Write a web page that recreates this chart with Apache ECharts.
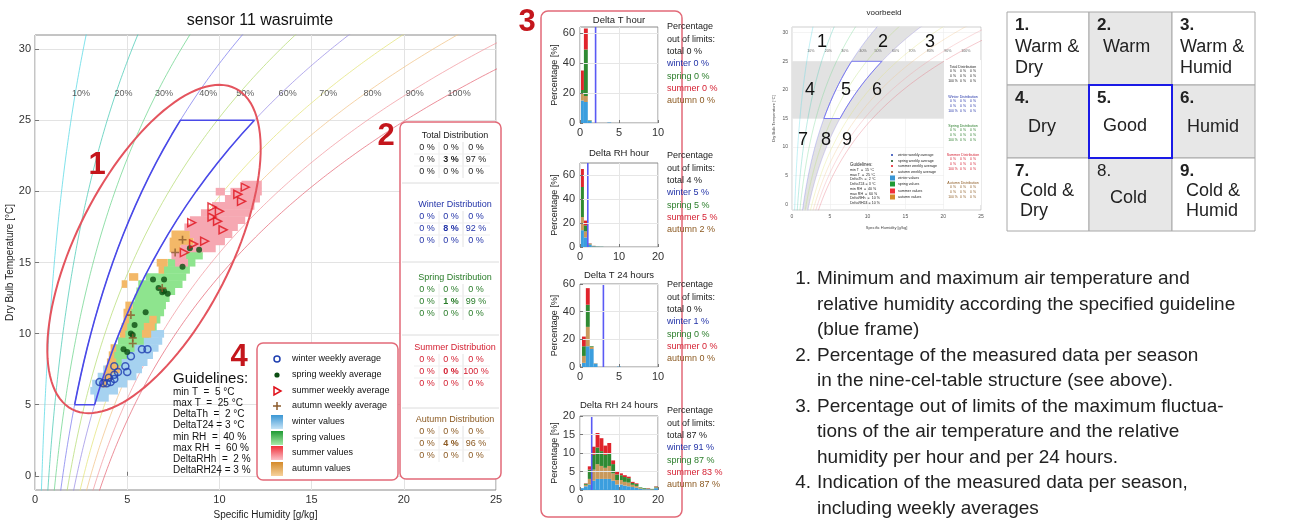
<!DOCTYPE html>
<html>
<head>
<meta charset="utf-8">
<script src="https://cdn.jsdelivr.net/npm/echarts@6/dist/echarts.min.js"></script>
<style>
  html, body { margin: 0; padding: 0; background: #fff; }
  #chart { width: 1304px; height: 520px; }
</style>
</head>
<body>
<div id="chart"></div>
<script>
// ---- psychrometric reference: saturation vapour pressure of water [kPa] ----
const satTemp = [-2,-1,0,1,2,3,4,5,6,7,8,9,10,11,12,13,14,15,16,17,18,19,20,21,22,23,24,25,26,27,28,29,30,31,32];
const satPress = [0.5275,0.5679,0.6112,0.6571,0.7060,0.7581,0.8135,0.8725,0.9353,1.0020,1.0729,1.1481,1.2280,1.3128,1.4026,1.4979,1.5987,1.7055,1.8185,1.9380,2.0643,2.1979,2.3389,2.4878,2.6448,2.8105,2.9852,3.1693,3.3633,3.5674,3.7823,4.0084,4.2462,4.4961,4.7586];
const atmPressure = 101.325;

// relative humidity lines and their labels
const rhLevels = [10, 20, 30, 40, 50, 60, 70, 80, 90, 100];
const rhColors = ['#56d8e4', '#48c9b4', '#6cd48c', '#7c7cee', '#b6dc74', '#9a8ee6', '#e4e47a', '#f2c48a', '#f29aa0', '#e66a78'];
const rhLabelX = [2.5, 4.8, 7.0, 9.4, 11.4, 13.7, 15.9, 18.3, 20.6, 23.0];
const rhLabelT = 26.85;

// guideline of the room
const guideMinT = 5, guideMaxT = 25, guideMinRH = 40, guideMaxRH = 60;
const guidelineLines = ['min T  =  5 °C', 'max T  =  25 °C', 'DeltaTh  =  2 °C', 'DeltaT24 = 3 °C',
                        'min RH  =  40 %', 'max RH  =  60 %', 'DeltaRHh  =  2 %', 'DeltaRH24 = 3 %'];

// measured values per season: rows of [temperature, q from, q to]
const winterCells = [[10.0,6.0,7.0],[9.5,5.4,6.9],[9.0,4.9,6.7],[8.5,4.4,6.4],[8.0,4.0,6.1],[7.5,3.7,5.8],
                     [7.0,3.4,5.5],[6.5,3.1,5.0],[6.0,3.0,4.5],[5.5,3.2,4.0]];
const springCells = [[15.5,7.9,9.1],[15.0,7.2,8.7],[14.5,6.9,8.4],[14.0,6.0,8.2],[13.5,5.6,8.0],[13.0,5.5,7.6],
                     [12.5,5.4,7.3],[12.0,5.3,7.1],[11.5,5.1,7.0],[11.0,5.0,6.8],[10.5,4.8,6.6],[10.0,4.6,6.2],
                     [9.5,4.5,5.9],[9.0,4.3,5.4],[8.5,4.2,5.0],[8.0,4.1,4.7],[7.5,4.2,4.5]];
const autumnCells = [[17.0,7.4,8.4],[16.5,7.3,8.6],[16.0,7.3,7.9],[15.0,6.6,7.2],[14.5,6.7,7.0],[14.0,5.1,5.6],
                     [13.5,4.7,5.0],[12.0,4.9,5.3],[11.5,4.8,5.2],[11.0,4.8,5.1],[11.0,6.2,6.6],[10.5,4.7,5.0],
                     [10.5,5.9,6.5],[10.0,4.6,4.9],[10.0,5.8,6.3],[9.0,4.1,4.4],[8.5,4.0,4.3],[8.0,3.9,4.4],
                     [7.5,3.8,4.6],[7.0,3.7,4.2],[6.5,3.6,3.9]];
const summerCells = [[20.5,11.2,12.3],[20.0,10.6,12.3],[20.0,9.8,10.3],[19.5,10.3,12.2],[19.0,9.6,11.9],
                     [18.5,9.0,11.7],[18.0,8.4,11.4],[17.5,8.1,11.0],[17.0,8.4,10.7],[16.5,8.6,10.3],
                     [16.0,7.9,9.8],[15.5,7.4,8.2],[15.0,7.6,8.3]];

// weekly averages per season: [specific humidity g/kg, temperature °C]
const winterWeekly = [[3.5,6.6],[3.7,6.5],[3.9,6.5],[4.1,6.6],[4.3,6.8],[4.0,6.9],[4.3,7.1],[4.5,7.3],
                      [4.3,7.7],[4.9,7.7],[5.0,7.3],[5.2,8.4],[5.8,8.9],[6.1,8.9]];
const springWeekly = [[8.4,16.0],[8.9,15.9],[8.0,14.7],[6.4,13.8],[7.0,13.8],[6.7,13.2],[7.0,13.0],[7.2,12.8],
                      [6.9,12.9],[6.0,11.5],[5.4,10.6],[5.2,10.0],[5.3,9.9],[4.8,8.9],[5.0,8.7]];
const summerWeekly = [[11.4,20.3],[11.0,19.8],[11.2,19.3],[9.6,18.9],[10.0,18.6],[9.6,18.2],[9.9,17.9],
                      [10.2,17.3],[8.5,17.8],[9.2,16.5],[8.6,16.3],[8.1,15.7]];
const autumnWeekly = [[8.0,16.6],[7.6,15.7],[5.2,11.3],[5.3,9.7],[5.3,9.3],[6.9,13.2]];

// nine-cell distributions [%]
const distTotal  = [[0,0,0],[0,3,97],[0,0,0]];
const distWinter = [[0,0,0],[0,8,92],[0,0,0]];
const distSpring = [[0,0,0],[0,1,99],[0,0,0]];
const distSummer = [[0,0,0],[0,0,100],[0,0,0]];
const distAutumn = [[0,0,0],[0,4,96],[0,0,0]];

// fluctuation histograms (stacked per season, percentage of all data)
const histTitles = ['Delta T hour', 'Delta RH hour', 'Delta T 24 hours', 'Delta RH 24 hours'];
const histLimits = [2, 2, 3, 3];
const histBinStart = [0, 0, 0.25, 0];
const histBinWidth = [0.5, 1, 0.5, 1];
const dThWinter = [15, 14, 1.5, 0, 0, 0, 0, 0.3];
const dThAutumn = [5, 4, 0.3, 0, 0, 0, 0, 0];
const dThSpring = [2, 31, 0.2, 0, 0, 0, 0, 0];
const dThSummer = [13, 14, 0, 0, 0, 0, 0, 0];
const dRHhWinter = [14, 8, 1.8, 0.5, 0.2, 0.1];
const dRHhAutumn = [11, 5, 0.4, 0.2, 0.1, 0];
const dRHhSpring = [25, 5, 0.5, 0.2, 0.1, 0.1];
const dRHhSummer = [15, 4, 0.3, 0.1, 0, 0];
const dT24Winter = [3, 15, 13, 2.5, 0, 0, 0, 0, 0, 0.3];
const dT24Autumn = [5, 14, 1.5, 0.3, 0, 0, 0, 0, 0, 0];
const dT24Spring = [7, 16, 0.5, 0, 0, 0, 0, 0, 0, 0];
const dT24Summer = [7, 12, 0, 0, 0, 0, 0, 0, 0, 0];
const dRH24Winter = [0.5,1.0,1.5,2.5,3.0,3.0,3.0,3.0,2.5,1.5,1.5,1.2,1.0,0.8,0.6,0.3,0.2,0.2,0.1,0.5];
const dRH24Autumn = [0,0.4,1.5,3.0,4.0,3.5,3.0,3.5,2.0,1.2,1.2,1.0,1.0,0.6,0.5,0.2,0.1,0.1,0.1,0.2];
const dRH24Spring = [0,0.3,2.5,4.0,4.5,4.0,3.5,3.5,2.5,1.5,1.3,1.3,1.2,0.5,0.5,0.2,0.2,0.1,0.1,0.2];
const dRH24Summer = [0,0.1,0.9,2.2,3.9,3.5,2.5,2.7,1.0,0.8,0.5,0.5,0.4,0.3,0.2,0,0,0.1,0,0.1];

// percentage out of limits per histogram
const outTotal  = [0, 4, 0, 87];
const outWinter = [0, 5, 1, 91];
const outSpring = [0, 5, 0, 87];
const outSummer = [0, 5, 0, 83];
const outAutumn = [0, 2, 0, 87];

// example chart guideline and its tables
const exMinT = 15, exMaxT = 25;
const exGuidelineLines = ['min T  =  15 °C', 'max T  =  25 °C', 'DeltaTh  =  2 °C', 'DeltaT24 = 3 °C',
                          'min RH  =  40 %', 'max RH  =  60 %', 'DeltaRHh  =  10 %', 'DeltaRH24 = 10 %'];
const exDist = [[0,0,0],[0,0,0],[100,0,0]];

// nine-cell legend and notes
const nineCells = [
  ['1.', ['Warm &', 'Dry']], ['2.', ['Warm']], ['3.', ['Warm &', 'Humid']],
  ['4.', ['Dry']], ['5.', ['Good']], ['6.', ['Humid']],
  ['7.', ['Cold &', 'Dry']], ['8.', ['Cold']], ['9.', ['Cold &', 'Humid']]
];
const notes = [
  ['1.', 'Minimum and maximum air temperature and'],
  ['', 'relative humidity according the specified guideline'],
  ['', '(blue frame)'],
  ['2.', 'Percentage of the measured data per season'],
  ['', 'in the nine-cel-table structure (see above).'],
  ['3.', 'Percentage out of limits of the maximum fluctua-'],
  ['', 'tions of the air temperature and the relative'],
  ['', 'humidity per hour and per 24 hours.'],
  ['4.', 'Indication of the measured data per season,'],
  ['', 'including weekly averages']
];

// ---------------------------------------------------------------------------
const FONT = '"Liberation Sans", Arial, Helvetica, sans-serif';
const C_WINTER = '#2233a8', C_SPRING = '#2a7d2a', C_SUMMER = '#d41e30', C_AUTUMN = '#8c5a22';
const RED = '#c4161c', FRAME_RED = '#e26a78';
const histColors = ['#3b9ede', '#c9995c', '#2f8a33', '#e0242c'];

function specHum(p, rh) { const e = rh / 100 * p; return 622 * e / (atmPressure - e); }
function rhCurve(rh, tMin, tMax) {
  const pts = [];
  satTemp.forEach((t, i) => { if (t >= tMin && t <= tMax) pts.push([specHum(satPress[i], rh), t]); });
  return pts;
}
function framePoints(minT, maxT, minRH, maxRH) {
  const a = rhCurve(minRH, minT, maxT);
  const b = rhCurve(maxRH, minT, maxT).reverse();
  return a.concat(b, [a[0]]);
}

function txt(x, y, s, size, color, o) {
  o = o || {};
  const align = o.align || 'left';
  return { type: 'text', z: o.z || 120, silent: true,
    style: { x: x, y: y, text: s, fill: color,
      font: (o.bold ? 'bold ' : '') + size + 'px ' + FONT,
      align: align, textAlign: align, verticalAlign: 'middle', textVerticalAlign: 'middle' } };
}
function rect(x, y, w, h, fill, stroke, lw, r, z) {
  return { type: 'rect', z: z === undefined ? 100 : z, silent: true,
    shape: { x: x, y: y, width: w, height: h, r: r || 0 },
    style: { fill: fill, stroke: stroke || null, lineWidth: lw || 0 } };
}
function seg(x1, y1, x2, y2, color, lw, z) {
  return { type: 'line', z: z || 110, silent: true, shape: { x1: x1, y1: y1, x2: x2, y2: y2 },
    style: { stroke: color, lineWidth: lw } };
}

const G = [];

// main title and big section numbers
G.push(txt(260, 21, 'sensor 11 wasruimte', 16, '#111', { align: 'center' }));
G.push(txt(97, 165, '1', 31, RED, { bold: true, align: 'center' }));
G.push(txt(386, 136, '2', 31, RED, { bold: true, align: 'center' }));
G.push(txt(527, 22, '3', 31, RED, { bold: true, align: 'center' }));
G.push(txt(239, 357, '4', 31, RED, { bold: true, align: 'center' }));

// ellipse around the guideline frame
(function () {
  const cx = 154, cy = 249, a = 180, b = 77, ang = 63 * Math.PI / 180;
  const ux = Math.cos(ang), uy = -Math.sin(ang), vx = Math.sin(ang), vy = Math.cos(ang);
  const pts = [];
  for (let i = 0; i <= 120; i++) {
    const t = i / 120 * 2 * Math.PI;
    pts.push([cx + a * Math.cos(t) * ux + b * Math.sin(t) * vx, cy + a * Math.cos(t) * uy + b * Math.sin(t) * vy]);
  }
  G.push({ type: 'polyline', z: 105, silent: true, shape: { points: pts }, style: { stroke: '#e4545e', lineWidth: 2, fill: null } });
})();

// guidelines text
G.push(txt(173, 379, 'Guidelines:', 15, '#111'));
guidelineLines.forEach((s, i) => G.push(txt(173, 392 + i * 11.2, s, 10, '#111')));

// legend box
G.push(rect(257, 343, 141, 137, '#fff', FRAME_RED, 1.5, 6, 100));
(function () {
  const sx = 277, tx = 292;
  const rows = [359, 375, 391, 406, 422, 438, 453, 469];
  const labels = ['winter weekly average', 'spring weekly average', 'summer weekly average', 'autumn weekly average',
                  'winter values', 'spring values', 'summer values', 'autumn values'];
  labels.forEach((s, i) => G.push(txt(tx, rows[i], s, 9, '#111')));
  G.push({ type: 'circle', z: 115, shape: { cx: sx, cy: rows[0], r: 3 }, style: { fill: null, stroke: '#1f3fb0', lineWidth: 1.5 } });
  G.push({ type: 'circle', z: 115, shape: { cx: sx, cy: rows[1], r: 2.6 }, style: { fill: '#0b4d12' } });
  G.push({ type: 'polygon', z: 115, shape: { points: [[sx - 3, rows[2] - 4], [sx + 4, rows[2]], [sx - 3, rows[2] + 4]] }, style: { fill: null, stroke: '#e0101a', lineWidth: 1.5 } });
  G.push(seg(sx - 4, rows[3], sx + 4, rows[3], '#8b5a2b', 1.5, 115));
  G.push(seg(sx, rows[3] - 4, sx, rows[3] + 4, '#8b5a2b', 1.5, 115));
  const grads = [['#3a96d4', '#c6e3f6'], ['#1f9a34', '#a8eaa8'], ['#f0303a', '#fbc2c8'], ['#d48a2a', '#f6d29c']];
  grads.forEach((g, i) => {
    G.push({ type: 'rect', z: 115, shape: { x: 271, y: rows[4 + i] - 7, width: 12, height: 14 },
      style: { fill: { type: 'linear', x: 0, y: 0, x2: 0, y2: 1, colorStops: [{ offset: 0, color: g[0] }, { offset: 1, color: g[1] }] } } });
  });
})();

// distribution tables
G.push(rect(400, 122, 101, 357, '#fff', FRAME_RED, 1.5, 6, 100));
(function () {
  const tables = [['Total Distribution', distTotal, '#222', 136],
                  ['Winter Distribution', distWinter, C_WINTER, 205],
                  ['Spring Distribution', distSpring, C_SPRING, 278],
                  ['Summer Distribution', distSummer, C_SUMMER, 348],
                  ['Autumn Distribution', distAutumn, C_AUTUMN, 420]];
  const cols = [427, 451, 476];
  [183, 262, 335, 408].forEach(y => G.push(seg(402, y, 499, y, '#dcdcdc', 1, 104)));
  tables.forEach(t => {
    G.push(txt(455, t[3], t[0], 9, t[2], { align: 'center' }));
    const y0 = t[3] + 12;
    G.push(seg(439, y0 - 6, 439, y0 + 30, '#ececec', 1, 104));
    G.push(seg(463, y0 - 6, 463, y0 + 30, '#e2e2e2', 1, 104));
    G.push(seg(414, y0 + 6, 490, y0 + 6, '#efefef', 1, 104));
    G.push(seg(414, y0 + 18, 490, y0 + 18, '#efefef', 1, 104));
    t[1].forEach((row, r) => row.forEach((v, c) => {
      G.push(txt(cols[c], y0 + r * 12, v + ' %', 9, t[2], { align: 'center', bold: r === 1 && c === 1 }));
    }));
  });
})();

// histogram panel frame (behind the small axes), titles and out-of-limit texts
G.push(rect(541, 11, 141, 506, '#fff', FRAME_RED, 1.5, 7, -10));
(function () {
  const titleY = [20, 153, 275, 405];
  const textY = [27, 156, 285, 411];
  histTitles.forEach((s, i) => {
    G.push(txt(619, titleY[i], s, 9.5, '#222', { align: 'center' }));
    const y = textY[i], d = 12.3, x = 667;
    G.push(txt(x, y, 'Percentage', 9, '#222'));
    G.push(txt(x, y + d, 'out of limits:', 9, '#222'));
    G.push(txt(x, y + 2 * d, 'total ' + outTotal[i] + ' %', 9, '#222'));
    G.push(txt(x, y + 3 * d, 'winter ' + outWinter[i] + ' %', 9, C_WINTER));
    G.push(txt(x, y + 4 * d, 'spring ' + outSpring[i] + ' %', 9, C_SPRING));
    G.push(txt(x, y + 5 * d, 'summer ' + outSummer[i] + ' %', 9, C_SUMMER));
    G.push(txt(x, y + 6 * d, 'autumn ' + outAutumn[i] + ' %', 9, C_AUTUMN));
  });
})();

// example chart decorations
G.push(txt(884, 13, 'voorbeeld', 8, '#222', { align: 'center' }));
G.push(rect(944, 60, 37, 145, '#fff', null, 0, 0, 100));
(function () {
  const nums = [['1', 822, 42], ['2', 883, 42], ['3', 930, 42], ['4', 810, 90], ['5', 846, 90], ['6', 877, 90],
                ['7', 803, 140], ['8', 826, 140], ['9', 847, 140]];
  nums.forEach(n => G.push(txt(n[1], n[2], n[0], 18, '#111', { align: 'center' })));
  G.push(txt(850, 165, 'Guidelines:', 4.5, '#222'));
  exGuidelineLines.forEach((s, i) => G.push(txt(850, 170 + i * 4.7, s, 3.6, '#222')));
  const lrows = [155, 161, 166, 172, 178, 184, 191, 197];
  const llabels = ['winter weekly average', 'spring weekly average', 'summer weekly average', 'autumn weekly average',
                   'winter values', 'spring values', 'summer values', 'autumn values'];
  const lcol = ['#1f3fb0', '#0b4d12', '#e0101a', '#8b5a2b', '#3a96d4', '#1f9a34', '#f0303a', '#d48a2a'];
  llabels.forEach((s, i) => {
    G.push(txt(898, lrows[i], s, 3.6, '#222'));
    if (i < 4) G.push({ type: 'circle', z: 115, shape: { cx: 892, cy: lrows[i], r: 1 }, style: { fill: lcol[i] } });
    else G.push(rect(890, lrows[i] - 2.5, 5, 5, lcol[i], null, 0, 0, 115));
  });
  const tt = [['Total Distribution', '#222', 67], ['Winter Distribution', C_WINTER, 97], ['Spring Distribution', C_SPRING, 126],
              ['Summer Distribution', C_SUMMER, 155], ['Autumn Distribution', C_AUTUMN, 183]];
  tt.forEach(t => {
    G.push(txt(963, t[2], t[0], 3.6, t[1], { align: 'center' }));
    exDist.forEach((row, r) => row.forEach((v, c) => G.push(txt(953 + c * 10, t[2] + 4.5 + r * 4.6, v + ' %', 3.4, t[1], { align: 'center' }))));
  });
})();

// nine-cell table
(function () {
  const xs = [1007, 1089, 1172], ws = [82, 83, 83], ys = [12, 85, 158], h = 73;
  const layout = [
    [8, [[8, 35], [8, 56]]], [8, [[14, 35]]], [8, [[8, 35], [8, 56]]],
    [8, [[21, 42]]], [8, [[14, 41]]], [8, [[15, 42]]],
    [8, [[13, 33], [13, 53]]], [8, [[21, 40]]], [8, [[14, 33], [14, 53]]]
  ];
  nineCells.forEach((cell, i) => {
    const r = Math.floor(i / 3), c = i % 3;
    const gray = (i % 2) === 1;
    G.push(rect(xs[c], ys[r], ws[c], h, gray ? '#e7e7e7' : '#fff', '#a8a8a8', 1, 0, 100));
  });
  G.push(rect(xs[1], ys[1], ws[1], h, '#fff', '#1a1ae6', 2, 0, 101));
  nineCells.forEach((cell, i) => {
    const r = Math.floor(i / 3), c = i % 3;
    const L = layout[i];
    G.push(txt(xs[c] + L[0], ys[r] + 13, cell[0], 17, '#222', { bold: i !== 7 }));
    cell[1].forEach((s, k) => G.push(txt(xs[c] + L[1][k][0], ys[r] + L[1][k][1], s, 18, '#222')));
  });
})();

// notes
notes.forEach((n, i) => {
  const y = 279 + i * 25.5;
  if (n[0]) G.push(txt(811, y, n[0], 19, '#222', { align: 'right' }));
  G.push(txt(817, y, n[1], 19, '#222'));
});

// ---------------------------------------------------------------------------
const tempTicks = [0, 5, 10, 15, 20, 25, 30];
function cellSeries(name, cells, color) {
  return {
    name: name, type: 'custom', xAxisIndex: 0, yAxisIndex: 0, clip: true, z: 3,
    data: cells, encode: { x: [1, 2], y: 0 },
    renderItem: function (params, api) {
      const t = api.value(0), a = api.coord([api.value(1), t + 0.25]), b = api.coord([api.value(2), t - 0.25]);
      return { type: 'rect', shape: { x: a[0], y: a[1], width: b[0] - a[0], height: b[1] - a[1] + 0.5 }, style: { fill: color } };
    }
  };
}
function histSeries(i, seasons) {
  const data = seasons[0].map((_, k) => [histBinStart[i] + k * histBinWidth[i], histBinStart[i] + (k + 1) * histBinWidth[i]].concat(seasons.map(s => s[k])));
  return {
    type: 'custom', xAxisIndex: i + 1, yAxisIndex: i + 1, clip: true, z: 3,
    data: data, encode: { x: [0, 1], y: 2 },
    renderItem: function (params, api) {
      const x0 = api.value(0), x1 = api.value(1);
      let acc = 0; const children = [];
      for (let k = 0; k < 4; k++) {
        const v = api.value(2 + k);
        if (!v) continue;
        const a = api.coord([x0, acc + v]), b = api.coord([x1, acc]);
        children.push({ type: 'rect', shape: { x: a[0], y: a[1], width: b[0] - a[0], height: b[1] - a[1] }, style: { fill: histColors[k] } });
        acc += v;
      }
      return { type: 'group', children: children };
    }
  };
}

const histGrids = [
  { left: 580, top: 27, width: 78, height: 96, xmax: 10, xint: 5, ymax: 64, yticks: [0, 20, 40, 60] },
  { left: 580, top: 163, width: 78, height: 84, xmax: 20, xint: 10, ymax: 70, yticks: [0, 20, 40, 60] },
  { left: 580, top: 284, width: 78, height: 83, xmax: 10, xint: 5, ymax: 60, yticks: [0, 20, 40, 60] },
  { left: 580, top: 416, width: 78, height: 74, xmax: 20, xint: 10, ymax: 20, yticks: [0, 5, 10, 15, 20] }
];

const grids = [{ left: 35, top: 35, width: 461, height: 455, show: true, borderColor: '#8a8a8a', borderWidth: 1,
                 backgroundColor: 'transparent', outerBoundsMode: 'none', containLabel: false }];
const xAxes = [{
  gridIndex: 0, type: 'value', min: 0, max: 25, interval: 5,
  axisLine: { show: false }, axisTick: { inside: true, length: 4, lineStyle: { color: '#777' } },
  axisLabel: { fontSize: 11, color: '#333', margin: 4, fontFamily: FONT },
  splitLine: { show: true, lineStyle: { color: '#e3e3e3' } },
  name: 'Specific Humidity [g/kg]', nameLocation: 'middle', nameGap: 18, nameTextStyle: { fontSize: 10, color: '#222', fontFamily: FONT }
}];
const yAxes = [{
  gridIndex: 0, type: 'value', min: -1, max: 31,
  axisLine: { show: false }, axisTick: { inside: true, length: 4, customValues: tempTicks, lineStyle: { color: '#777' } },
  axisLabel: { customValues: tempTicks, fontSize: 11, color: '#333', margin: 4, fontFamily: FONT },
  splitLine: { show: true, lineStyle: { color: '#e3e3e3' } },
  name: 'Dry Bulb Temperature [°C]', nameLocation: 'middle', nameGap: 19, nameTextStyle: { fontSize: 10, color: '#222', fontFamily: FONT }
}];
histGrids.forEach((h, i) => {
  grids.push({ left: h.left, top: h.top, width: h.width, height: h.height, show: true, borderColor: '#8a8a8a', borderWidth: 1,
               backgroundColor: '#fff', outerBoundsMode: 'none', containLabel: false });
  xAxes.push({ gridIndex: i + 1, type: 'value', min: 0, max: h.xmax, interval: h.xint, z: 10,
    axisLine: { show: false }, axisTick: { inside: true, length: 3, lineStyle: { color: '#777' } },
    axisLabel: { fontSize: 11, color: '#333', margin: 4, fontFamily: FONT },
    splitLine: { show: true, lineStyle: { color: '#e6e6e6' } } });
  yAxes.push({ gridIndex: i + 1, type: 'value', min: 0, max: h.ymax, z: 10,
    axisLine: { show: false }, axisTick: { inside: true, length: 3, customValues: h.yticks, lineStyle: { color: '#777' } },
    axisLabel: { customValues: h.yticks, fontSize: 11, color: '#333', margin: 5, fontFamily: FONT },
    splitLine: { show: true, lineStyle: { color: '#e6e6e6' } },
    name: 'Percentage [%]', nameLocation: 'middle', nameGap: 19, nameTextStyle: { fontSize: 9, color: '#222', fontFamily: FONT } });
});
// example chart axes
grids.push({ left: 792, top: 27, width: 189, height: 183, show: true, borderColor: '#b0b0b0', borderWidth: 0.6,
             backgroundColor: 'transparent', outerBoundsMode: 'none', containLabel: false });
xAxes.push({ gridIndex: 5, type: 'value', min: 0, max: 25, interval: 5,
  axisLine: { show: false }, axisTick: { show: false },
  axisLabel: { fontSize: 5, color: '#555', margin: 4, fontFamily: FONT },
  splitLine: { show: true, lineStyle: { color: '#ececec', width: 0.6 } },
  name: 'Specific Humidity [g/kg]', nameLocation: 'middle', nameGap: 16, nameTextStyle: { fontSize: 4, color: '#444', fontFamily: FONT } });
yAxes.push({ gridIndex: 5, type: 'value', min: -1, max: 31,
  axisLine: { show: false }, axisTick: { show: false, customValues: tempTicks },
  axisLabel: { customValues: tempTicks, fontSize: 5, color: '#555', margin: 4, fontFamily: FONT },
  splitLine: { show: true, lineStyle: { color: '#ececec', width: 0.6 } },
  name: 'Dry Bulb Temperature [°C]', nameLocation: 'middle', nameGap: 16, nameTextStyle: { fontSize: 4, color: '#444', fontFamily: FONT } });

const series = [];
// RH lines of the main chart
rhLevels.forEach((rh, i) => series.push({
  type: 'line', xAxisIndex: 0, yAxisIndex: 0, data: rhCurve(rh, -2, 32), smooth: 0.2, showSymbol: false, silent: true,
  lineStyle: { color: rhColors[i], width: 1, opacity: 0.75 }, z: 2
}));
series.push({
  type: 'scatter', xAxisIndex: 0, yAxisIndex: 0, symbolSize: 0, silent: true, z: 4,
  data: rhLabelX.map((x, i) => [x, rhLabelT, rhLevels[i] + '%']),
  label: { show: true, position: 'inside', formatter: p => p.data[2], fontSize: 9, color: '#333', fontFamily: FONT }
});
// seasonal values
series.push(cellSeries('winter values', winterCells, '#a6d2f0'));
series.push(cellSeries('spring values', springCells, '#8ee48e'));
series.push(cellSeries('autumn values', autumnCells, '#f3b868'));
series.push(cellSeries('summer values', summerCells, '#f6a8b2'));
// guideline frame
series.push({ type: 'line', xAxisIndex: 0, yAxisIndex: 0, data: framePoints(guideMinT, guideMaxT, guideMinRH, guideMaxRH),
  showSymbol: false, silent: true, lineStyle: { color: '#4a4ae8', width: 1.6 }, z: 5 });
// weekly averages
series.push({ name: 'winter weekly average', type: 'scatter', xAxisIndex: 0, yAxisIndex: 0, data: winterWeekly, symbol: 'circle', symbolSize: 7, z: 6,
  itemStyle: { color: 'rgba(255,255,255,0)', borderColor: '#1f3fb0', borderWidth: 1.5 } });
series.push({ name: 'spring weekly average', type: 'scatter', xAxisIndex: 0, yAxisIndex: 0, data: springWeekly, symbol: 'circle', symbolSize: 6, z: 6,
  itemStyle: { color: '#0b4d12' } });
series.push({ name: 'summer weekly average', type: 'scatter', xAxisIndex: 0, yAxisIndex: 0, data: summerWeekly, symbol: 'triangle', symbolRotate: -90, symbolSize: 8, z: 6,
  itemStyle: { color: 'rgba(255,255,255,0)', borderColor: '#e0101a', borderWidth: 1.5 } });
series.push({ name: 'autumn weekly average', type: 'scatter', xAxisIndex: 0, yAxisIndex: 0, data: autumnWeekly, symbol: 'path://M4,0H6V4H10V6H6V10H4V6H0V4H4Z', symbolSize: 8, z: 6,
  itemStyle: { color: '#8b5a2b' } });

// histograms
series.push(histSeries(0, [dThWinter, dThAutumn, dThSpring, dThSummer]));
series.push(histSeries(1, [dRHhWinter, dRHhAutumn, dRHhSpring, dRHhSummer]));
series.push(histSeries(2, [dT24Winter, dT24Autumn, dT24Spring, dT24Summer]));
series.push(histSeries(3, [dRH24Winter, dRH24Autumn, dRH24Spring, dRH24Summer]));
histLimits.forEach((lim, i) => series.push({
  type: 'line', xAxisIndex: i + 1, yAxisIndex: i + 1, data: [[lim, 0], [lim, histGrids[i].ymax]], showSymbol: false, silent: true,
  lineStyle: { color: '#5a5af5', width: 1.6 }, z: 5
}));

// example chart: shaded cells 2, 4, 6 and 8 of the nine-cell structure
const exZones = [
  rhCurve(guideMinRH, exMaxT, 31).concat(rhCurve(guideMaxRH, exMaxT, 31).reverse()),
  [[0, exMinT], [0, exMaxT]].concat(rhCurve(guideMinRH, exMinT, exMaxT).reverse()),
  rhCurve(guideMaxRH, exMinT, exMaxT).concat([[25, exMaxT], [25, exMinT]]),
  rhCurve(guideMinRH, -1, exMinT).concat(rhCurve(guideMaxRH, -1, exMinT).reverse())
];
series.push({
  type: 'custom', xAxisIndex: 5, yAxisIndex: 5, clip: true, silent: true, z: 1,
  data: exZones.map((_, i) => [i]),
  renderItem: function (params, api) {
    const pts = exZones[params.dataIndex].map(p => api.coord(p));
    return { type: 'polygon', shape: { points: pts }, style: { fill: '#e2e2e2' } };
  }
});
rhLevels.forEach((rh, i) => series.push({
  type: 'line', xAxisIndex: 5, yAxisIndex: 5, data: rhCurve(rh, -2, 32), smooth: 0.2, showSymbol: false, silent: true,
  lineStyle: { color: rhColors[i], width: 0.6, opacity: 0.6 }, z: 2
}));
series.push({
  type: 'scatter', xAxisIndex: 5, yAxisIndex: 5, symbolSize: 0, silent: true, z: 4,
  data: rhLabelX.map((x, i) => [x, rhLabelT, rhLevels[i] + '%']),
  label: { show: true, position: 'inside', formatter: p => p.data[2], fontSize: 3.6, color: '#444', fontFamily: FONT }
});
series.push({ type: 'line', xAxisIndex: 5, yAxisIndex: 5, data: framePoints(exMinT, exMaxT, guideMinRH, guideMaxRH),
  showSymbol: false, silent: true, lineStyle: { color: '#7a7af0', width: 1 }, z: 5 });

const chart = echarts.init(document.getElementById('chart'), null, { renderer: 'canvas' });
chart.setOption({
  animation: false,
  backgroundColor: '#fff',
  textStyle: { fontFamily: FONT },
  grid: grids,
  xAxis: xAxes,
  yAxis: yAxes,
  series: series,
  graphic: { elements: G }
});
</script>
</body>
</html>
